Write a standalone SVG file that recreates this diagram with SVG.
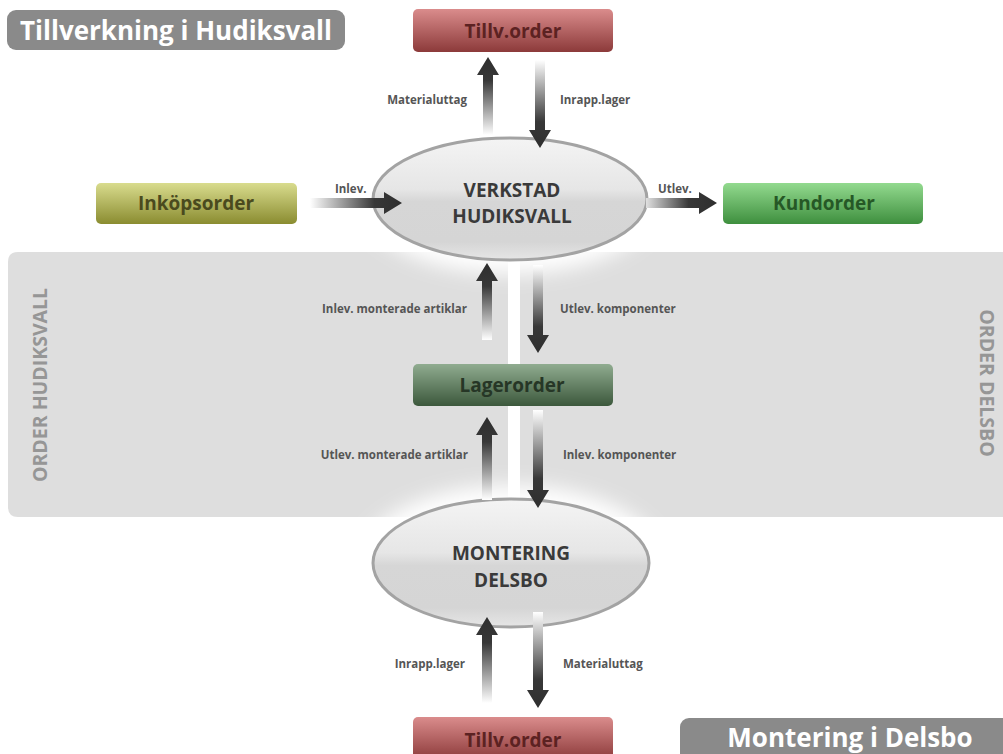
<svg xmlns="http://www.w3.org/2000/svg" width="1003" height="754" viewBox="0 0 1003 754">
<defs>
<style>
text{font-family:"Open Sans","Liberation Sans",sans-serif;font-weight:bold}
.title{fill:#ffffff;font-size:26px}
.box{font-size:19px;text-anchor:middle}
.ell{font-size:19px;fill:#3a3a3a;text-anchor:middle}
.lbl{font-size:11.5px;fill:#555555}
.side{font-size:19.5px;fill:#969696;text-anchor:middle}
.ellipse{stroke:#a3a3a3;stroke-width:3;fill:url(#gEll)}
</style>
<linearGradient id="gRed" x1="0" y1="0" x2="0" y2="1"><stop offset="0" stop-color="#da8c8c"/><stop offset="1" stop-color="#8c3a3a"/></linearGradient>
<linearGradient id="gOlive" x1="0" y1="0" x2="0" y2="1"><stop offset="0" stop-color="#d9dc8e"/><stop offset="1" stop-color="#8a8c30"/></linearGradient>
<linearGradient id="gGreen" x1="0" y1="0" x2="0" y2="1"><stop offset="0" stop-color="#93da8f"/><stop offset="1" stop-color="#3e8f3e"/></linearGradient>
<linearGradient id="gLager" x1="0" y1="0" x2="0" y2="1"><stop offset="0" stop-color="#90ac90"/><stop offset="1" stop-color="#3c583c"/></linearGradient>
<linearGradient id="gEll" x1="0" y1="0" x2="0" y2="1"><stop offset="0" stop-color="#f4f4f4"/><stop offset="0.42" stop-color="#e6e6e6"/><stop offset="0.52" stop-color="#d6d6d6"/><stop offset="0.85" stop-color="#d5d5d5"/><stop offset="1" stop-color="#e6e6e6"/></linearGradient>
<linearGradient id="gUp" x1="0" y1="0" x2="0" y2="1"><stop offset="0" stop-color="#2e2e2e"/><stop offset="0.3" stop-color="#383838"/><stop offset="1" stop-color="#ffffff"/></linearGradient>
<linearGradient id="gDown" x1="0" y1="0" x2="0" y2="1"><stop offset="0" stop-color="#ffffff"/><stop offset="0.7" stop-color="#383838"/><stop offset="1" stop-color="#2e2e2e"/></linearGradient>
<linearGradient id="gRight" x1="0" y1="0" x2="1" y2="0"><stop offset="0" stop-color="#ffffff"/><stop offset="0.7" stop-color="#383838"/><stop offset="1" stop-color="#2e2e2e"/></linearGradient>
<linearGradient id="gRight2" x1="0" y1="0" x2="1" y2="0"><stop offset="0" stop-color="#e0e0e0"/><stop offset="0.6" stop-color="#383838"/><stop offset="1" stop-color="#2e2e2e"/></linearGradient>
<filter id="glow" x="-30%" y="-30%" width="160%" height="160%"><feGaussianBlur stdDeviation="10"/></filter>
</defs>

<g id="bands">
<path d="M18,252 H508 V517 H18 Q8,517 8,507 V262 Q8,252 18,252 Z" fill="#dedede"/>
<rect x="520" y="252" width="495" height="265" fill="#dedede"/>
<text class="side" transform="translate(47,385) rotate(-90)">ORDER HUDIKSVALL</text>
<text class="side" transform="translate(980,383) rotate(90)">ORDER DELSBO</text>
</g>

<g id="glows" filter="url(#glow)" fill="#ffffff">
<ellipse cx="510" cy="200" rx="150" ry="74"/>
<ellipse cx="511" cy="563" rx="152" ry="78"/>
</g>

<g id="title-hudiksvall">
<rect x="7" y="10" width="338" height="40" rx="9" fill="#8a8a8a"/>
<text class="title" x="176" y="40" text-anchor="middle">Tillverkning i Hudiksvall</text>
</g>

<g id="title-delsbo">
<rect x="680" y="718" width="340" height="50" rx="9" fill="#8a8a8a"/>
<text class="title" x="850" y="747" text-anchor="middle">Montering i Delsbo</text>
</g>

<g id="verkstad">
<ellipse class="ellipse" cx="510" cy="199" rx="137" ry="61"/>
<text class="ell" x="512" y="197">VERKSTAD</text>
<text class="ell" x="512" y="223">HUDIKSVALL</text>
</g>

<g id="montering">
<ellipse class="ellipse" cx="511" cy="563" rx="138" ry="64"/>
<text class="ell" x="511" y="560">MONTERING</text>
<text class="ell" x="511" y="587">DELSBO</text>
</g>

<g id="connectors">
<path d="M488,57 L499,75 L493,75 L493,135 L483,135 L483,75 L477,75 Z" fill="url(#gUp)"/>
<path d="M540,148 L529,130 L535,130 L535,60 L545,60 L545,130 L551,130 Z" fill="url(#gDown)"/>
<path d="M402,203 L384,192 L384,198 L310,198 L310,208 L384,208 L384,214 Z" fill="url(#gRight)"/>
<path d="M717,203 L699,192 L699,198 L646,198 L646,208 L699,208 L699,214 Z" fill="url(#gRight2)"/>
<path d="M487,263 L498,281 L492,281 L492,340 L482,340 L482,281 L476,281 Z" fill="url(#gUp)"/>
<path d="M538,353 L527,335 L533,335 L533,265 L543,265 L543,335 L549,335 Z" fill="url(#gDown)"/>
<path d="M487,417 L498,435 L492,435 L492,500 L482,500 L482,435 L476,435 Z" fill="url(#gUp)"/>
<path d="M538,508 L527,490 L533,490 L533,410 L543,410 L543,490 L549,490 Z" fill="url(#gDown)"/>
<path d="M487,617 L498,635 L492,635 L492,703 L482,703 L482,635 L476,635 Z" fill="url(#gUp)"/>
<path d="M538,708 L527,690 L533,690 L533,612 L543,612 L543,690 L549,690 Z" fill="url(#gDown)"/>
<text class="lbl" x="467" y="104" text-anchor="end">Materialuttag</text>
<text class="lbl" x="560" y="104">Inrapp.lager</text>
<text class="lbl" x="335" y="193">Inlev.</text>
<text class="lbl" x="658" y="193">Utlev.</text>
<text class="lbl" x="467" y="313" text-anchor="end">Inlev. monterade artiklar</text>
<text class="lbl" x="560" y="313">Utlev. komponenter</text>
<text class="lbl" x="468" y="459" text-anchor="end">Utlev. monterade artiklar</text>
<text class="lbl" x="563" y="459">Inlev. komponenter</text>
<text class="lbl" x="465" y="668" text-anchor="end">Inrapp.lager</text>
<text class="lbl" x="563" y="668">Materialuttag</text>
</g>

<g id="tillv-top">
<rect x="413" y="9" width="200" height="43" rx="5" fill="url(#gRed)"/>
<text class="box" x="513" y="38" fill="#5c2222">Tillv.order</text>
</g>

<g id="inkopsorder">
<rect x="96" y="183" width="201" height="41" rx="5" fill="url(#gOlive)"/>
<text class="box" x="196" y="210" fill="#4a4a1e">Inköpsorder</text>
</g>

<g id="kundorder">
<rect x="723" y="183" width="200" height="41" rx="5" fill="url(#gGreen)"/>
<text class="box" x="824" y="210" fill="#265826">Kundorder</text>
</g>

<g id="lagerorder">
<rect x="413" y="364" width="200" height="42" rx="5" fill="url(#gLager)"/>
<text class="box" x="512" y="392" fill="#263626">Lagerorder</text>
</g>

<g id="tillv-bottom">
<rect x="413" y="717" width="200" height="43" rx="5" fill="url(#gRed)"/>
<text class="box" x="513" y="747" fill="#5c2222">Tillv.order</text>
</g>
</svg>
